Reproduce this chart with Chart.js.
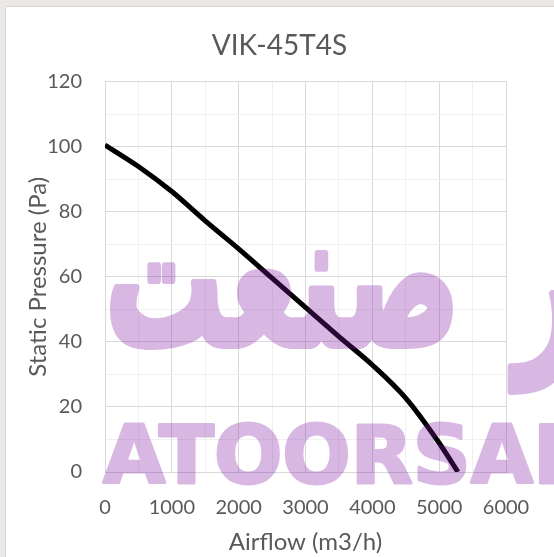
<!DOCTYPE html>
<html><head><meta charset="utf-8">
<script src="https://cdn.jsdelivr.net/npm/chart.js@4.4.0/dist/chart.umd.min.js"></script>
<style>html,body{margin:0;padding:0;background:#fff;overflow:hidden;}canvas{display:block;}</style>
</head><body>
<canvas id="c" width="554" height="557"></canvas>
<script>
const chartTitle = "VIK-45T4S";
const xAxisTitle = "Airflow (m3/h)";
const yAxisTitle = "Static Pressure (Pa)";
const airflow = [0, 500, 1000, 1500, 2000, 2500, 3000, 3500, 4000, 4500, 5000, 5280];
const pressure = [100.5, 93.9, 86.2, 77.2, 68.6, 59.6, 50.6, 41.6, 32.9, 22.7, 8.9, 0];
const xTickLabels = [0, 1000, 2000, 3000, 4000, 5000, 6000];
const yTickLabels = [0, 20, 40, 60, 80, 100, 120];
const watermarkLatin = "ATOORSANAT";
const watermarkWord1 = "صنعت";
const watermarkWord2 = "آتور";

const points = airflow.map((x, i) => ({x: x, y: pressure[i]}));

const frame = {
  id: 'frame',
  beforeDraw(chart) {
    const ctx = chart.ctx;
    ctx.save();
    ctx.fillStyle = '#ebe8e5';
    ctx.fillRect(0, 0, chart.width, chart.height);
    ctx.fillStyle = '#ffffff';
    ctx.fillRect(5, 6, chart.width - 5, chart.height - 6);
    ctx.strokeStyle = '#d6d6d6';
    ctx.lineWidth = 1;
    ctx.beginPath();
    ctx.moveTo(5.5, chart.height); ctx.lineTo(5.5, 6.5); ctx.lineTo(chart.width, 6.5);
    ctx.stroke();
    ctx.restore();
  }
};

const watermark = {
  id: 'watermark',
  afterDraw(chart) {
    const off = document.createElement('canvas');
    off.width = chart.width; off.height = chart.height;
    const o = off.getContext('2d');
    const col = 'rgb(128,25,165)';
    o.fillStyle = col; o.strokeStyle = col; o.lineJoin = 'round';
    o.textBaseline = 'alphabetic';
    // Latin word
    o.font = 'bold 100px "DejaVu Sans"';
    let w = o.measureText('ATOORSA').width;
    let s = 100 * 430 / w;
    o.font = 'bold ' + s + 'px "DejaVu Sans"';
    o.textAlign = 'left';
    o.lineWidth = 3;
    o.fillText(watermarkLatin, 103, 483);
    o.strokeText(watermarkLatin, 103, 483);
    // Persian words, stretched vertically about the baseline
    o.font = 'bold 100px "DejaVu Sans"';
    w = o.measureText(watermarkWord1).width;
    s = 100 * 355 / w;
    o.save();
    o.translate(0, 345);
    o.scale(1, 1.6);
    o.font = 'bold ' + s + 'px "DejaVu Sans"';
    o.lineWidth = 5;
    o.textAlign = 'right';
    o.fillText(watermarkWord1, 460, 0);
    o.strokeText(watermarkWord1, 460, 0);
    o.textAlign = 'left';
    o.fillText(watermarkWord2, 515, 0);
    o.strokeText(watermarkWord2, 515, 0);
    o.restore();
    const ctx = chart.ctx;
    ctx.save();
    ctx.globalAlpha = 0.3;
    ctx.drawImage(off, 0, 0);
    ctx.restore();
  }
};

const major = (v, step) => Math.abs(Math.round(v) % step) === 0;

new Chart(document.getElementById('c'), {
  type: 'scatter',
  data: {
    datasets: [{
      data: points,
      showLine: true,
      borderColor: '#000000',
      borderWidth: 5,
      pointRadius: 0,
      cubicInterpolationMode: 'monotone',
      fill: false
    }]
  },
  options: {
    responsive: false,
    animation: false,
    devicePixelRatio: 1,
    layout: {padding: {left: 5, top: 6, right: 0, bottom: 0}},
    plugins: {
      legend: {display: false},
      tooltip: {enabled: false},
      title: {
        display: true, text: chartTitle, color: '#595959',
        font: {family: 'Lato', size: 28, weight: 'normal'},
        padding: {top: 23, bottom: 19}
      }
    },
    scales: {
      x: {
        type: 'linear', min: xTickLabels[0], max: xTickLabels[xTickLabels.length - 1],
        ticks: {
          stepSize: 500, autoSkip: false, maxRotation: 0,
          callback: v => major(v, 1000) && xTickLabels.includes(Math.round(v)) ? String(Math.round(v)) : '',
          color: '#595959', font: {family: 'Lato', size: 20}, padding: 24
        },
        grid: {
          color: c => (c.tick && major(c.tick.value, 1000)) ? '#d9d9d9' : '#f0f0f0',
          drawTicks: false, lineWidth: 1
        },
        border: {color: '#d9d9d9'},
        title: {display: true, text: xAxisTitle, color: '#595959', font: {family: 'Lato', size: 24}, padding: {top: 0, bottom: 0}},
        afterFit: s => { s.height = 85; }
      },
      y: {
        type: 'linear', position: 'left', min: yTickLabels[0], max: yTickLabels[yTickLabels.length - 1],
        ticks: {
          stepSize: 10, autoSkip: false,
          callback: v => major(v, 20) && yTickLabels.includes(Math.round(v)) ? String(Math.round(v)) : '',
          color: '#595959', font: {family: 'Lato', size: 20}, padding: 23
        },
        grid: {
          color: c => (c.tick && major(c.tick.value, 20)) ? '#d9d9d9' : '#f0f0f0',
          drawTicks: false, lineWidth: 1
        },
        border: {color: '#d9d9d9'},
        title: {display: true, text: yAxisTitle, color: '#595959', font: {family: 'Lato', size: 24}, padding: {top: 19, bottom: 0}},
        afterFit: s => { s.width = 100; }
      },
      yRight: {
        type: 'linear', position: 'right', min: 0, max: 120,
        grid: {display: false, drawTicks: false},
        border: {display: false},
        ticks: {display: false},
        afterFit: s => { s.width = 48; }
      }
    }
  },
  plugins: [frame, watermark]
});
</script>
</body></html>
